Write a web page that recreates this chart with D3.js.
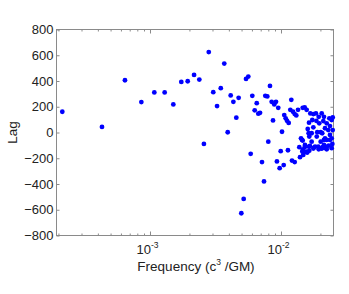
<!DOCTYPE html>
<html>
<head>
<meta charset="utf-8">
<script src="https://cdn.jsdelivr.net/npm/d3@7"></script>
<style>
  body { margin: 0; background: #fff; }
  text { font-family: "Liberation Sans", Arial, sans-serif; fill: #222; }
</style>
</head>
<body>
<div id="chart"></div>
<script>
// frequency (c^3/GM) and lag for each point
const freq = [
  2.14e-4, 4.30e-4, 6.44e-4, 8.59e-4, 1.079e-3, 1.294e-3, 1.507e-3, 1.734e-3, 1.94e-3, 2.17e-3,
  2.38e-3, 2.81e-3, 3.04e-3, 3.25e-3, 3.47e-3, 3.69e-3, 3.92e-3, 4.13e-3, 4.33e-3, 4.56e-3,
  4.75e-3, 2.58e-3, 5.41e-3, 5.63e-3, 6.04e-3, 6.30e-3, 6.53e-3, 6.71e-3, 6.92e-3, 7.59e-3,
  7.86e-3, 8.24e-3, 8.49e-3, 8.69e-3, 8.89e-3, 9.16e-3, 9.53e-3, 8.00e-3, 1.018e-2, 1.059e-2,
  1.086e-2, 1.112e-2, 1.145e-2, 1.178e-2, 1.199e-2, 1.236e-2, 1.273e-2, 1.309e-2, 1.349e-2, 1.465e-2,
  1.517e-2, 1.570e-2,
  5.87e-3, 7.16e-3, 7.42e-3, 5.19e-3, 4.98e-3, 9.31e-3, 9.77e-3, 9.95e-3, 1.049e-2, 1.13e-2,
  1.213e-2, 1.273e-2, 1.380e-2, 1.397e-2, 1.455e-2, 1.479e-2, 1.517e-2, 1.570e-2, 1.465e-2, 1.637e-2,
  1.714e-2, 1.786e-2, 1.928e-2, 2.009e-2, 2.056e-2, 2.128e-2, 2.193e-2, 2.312e-2, 2.466e-2, 2.366e-2,
  2.128e-2,
  1.675e-2, 1.766e-2, 1.849e-2, 1.941e-2, 2.046e-2, 2.128e-2, 2.339e-2, 2.438e-2, 1.637e-2, 1.734e-2,
  1.862e-2, 1.959e-2, 2.104e-2, 2.234e-2, 2.366e-2, 1.600e-2, 1.766e-2, 1.892e-2, 2.009e-2, 2.168e-2,
  2.296e-2, 2.483e-2, 1.626e-2, 1.714e-2, 2.065e-2, 2.366e-2, 1.644e-2, 1.875e-2, 2.168e-2, 2.438e-2,
  1.422e-2, 1.447e-2, 2.234e-2, 1.524e-2, 1.663e-2, 1.820e-2, 2.080e-2, 2.208e-2, 2.438e-2, 1.465e-2,
  1.552e-2, 1.644e-2, 1.766e-2, 1.941e-2, 2.046e-2, 1.588e-2, 2.234e-2, 2.483e-2
];
const lag = [
  161, 43, 406, 236, 311, 311, 218, 393, 398, 447,
  411, 625, 313, 205, 344, 535, 2, 288, 238, 115,
  269, -89, 416, 434, 285, 172, 228, 146, 153, 285,
  280, 362, 238, 94, 218, 238, 192, -71, 6, 135,
  110, 91, 74, 176, 254, 161, 143, 133, 176, 192,
  195, 176,
  -166, -230, -380, -516, -627, -225, -277, -145, -253, -138,
  -218, -230, -114, -192, -148, -174, -114, -153, -63, -110,
  -71, -117, -110, -71, -122, -97, -122, -102, -89, -58,
  -58,
  148, 143, 148, 122, 148, 122, 110, 97, 76, 97,
  91, 71, 89, 71, 50, 27, 40, 2, 2, 33,
  19, 19, -6, -6, -6, -19, -32, -32, -45, -45,
  -45, -58, -58, -97, -104, -110, -114, -110, -122, -135,
  -148, -141, -125, -130, -125, -156, -130, 117
];
const yTicks = [-800, -600, -400, -200, 0, 200, 400, 600, 800];
const xMajor = [1e-3, 1e-2];
const xMinor = [2e-4, 3e-4, 4e-4, 5e-4, 6e-4, 7e-4, 8e-4, 9e-4,
  2e-3, 3e-3, 4e-3, 5e-3, 6e-3, 7e-3, 8e-3, 9e-3, 2e-2];

const width = 349, height = 294;
const mLeft = 56.5, mRight = 333.5, mTop = 29.5, mBottom = 235.5;
const axisColor = "#8a8a8a";

const svg = d3.select("#chart").append("svg")
  .attr("width", width).attr("height", height);

const x = d3.scaleLog().domain([1.933e-4, 0.02517]).range([mLeft, mRight]);
const y = d3.scaleLinear().domain([-800, 800]).range([mBottom, mTop]);

// box
svg.append("rect")
  .attr("x", mLeft).attr("y", mTop)
  .attr("width", mRight - mLeft).attr("height", mBottom - mTop)
  .attr("fill", "none").attr("stroke", axisColor);

function styleAxis(g) {
  g.select(".domain").remove();
  g.selectAll(".tick line").attr("stroke", axisColor);
}

// y axis, left with labels, right ticks only
svg.append("g")
  .attr("transform", `translate(${mLeft},0)`)
  .call(d3.axisLeft(y).tickValues(yTicks).tickSize(-3).tickPadding(3)
    .tickFormat(d => d3.format("d")(d).replace("-", "\u2212")))
  .call(styleAxis)
  .call(g => g.selectAll("text").attr("font-size", 13)
    .attr("font-family", "Liberation Sans, Arial, sans-serif").attr("fill", "#222"));

svg.append("g")
  .attr("transform", `translate(${mRight},0)`)
  .call(d3.axisRight(y).tickValues(yTicks).tickSize(-3).tickFormat(""))
  .call(styleAxis);

// x axis, bottom with labels, top ticks only
const xb = svg.append("g")
  .attr("transform", `translate(0,${mBottom})`)
  .call(d3.axisBottom(x).tickValues(xMajor).tickSize(-4).tickFormat(""))
  .call(styleAxis);

xb.selectAll(".tick").append("text")
  .attr("x", -3)
  .attr("y", 18.5)
  .attr("text-anchor", "middle")
  .attr("font-size", 13)
  .each(function (d) {
    const t = d3.select(this);
    t.append("tspan").text("10");
    t.append("tspan").attr("dy", -6).attr("font-size", 8.5).text("-" + Math.round(-Math.log10(d)));
  });

svg.append("g")
  .attr("transform", `translate(0,${mBottom})`)
  .call(d3.axisBottom(x).tickValues(xMinor).tickSize(-2).tickFormat(""))
  .call(styleAxis);

svg.append("g")
  .attr("transform", `translate(0,${mTop})`)
  .call(d3.axisTop(x).tickValues(xMajor).tickSize(-4).tickFormat(""))
  .call(styleAxis);

svg.append("g")
  .attr("transform", `translate(0,${mTop})`)
  .call(d3.axisTop(x).tickValues(xMinor).tickSize(-2).tickFormat(""))
  .call(styleAxis);

// points
const points = freq.map((f, i) => ({ f, v: lag[i] }));
svg.append("g")
  .selectAll("circle")
  .data(points)
  .join("circle")
  .attr("cx", d => x(d.f))
  .attr("cy", d => y(d.v))
  .attr("r", 2.4)
  .attr("fill", "#0000ff");

// labels
svg.append("text")
  .attr("transform", `translate(17,${(mTop + mBottom) / 2}) rotate(-90)`)
  .attr("text-anchor", "middle")
  .attr("font-size", 13.5)
  .text("Lag");

const xl = svg.append("text")
  .attr("x", 196)
  .attr("y", 270.5)
  .attr("text-anchor", "middle")
  .attr("font-size", 13.5);
xl.append("tspan").text("Frequency (c");
xl.append("tspan").attr("dy", -6).attr("font-size", 8.5).text("3");
xl.append("tspan").attr("dy", 6).text(" /GM)");
</script>
</body>
</html>
